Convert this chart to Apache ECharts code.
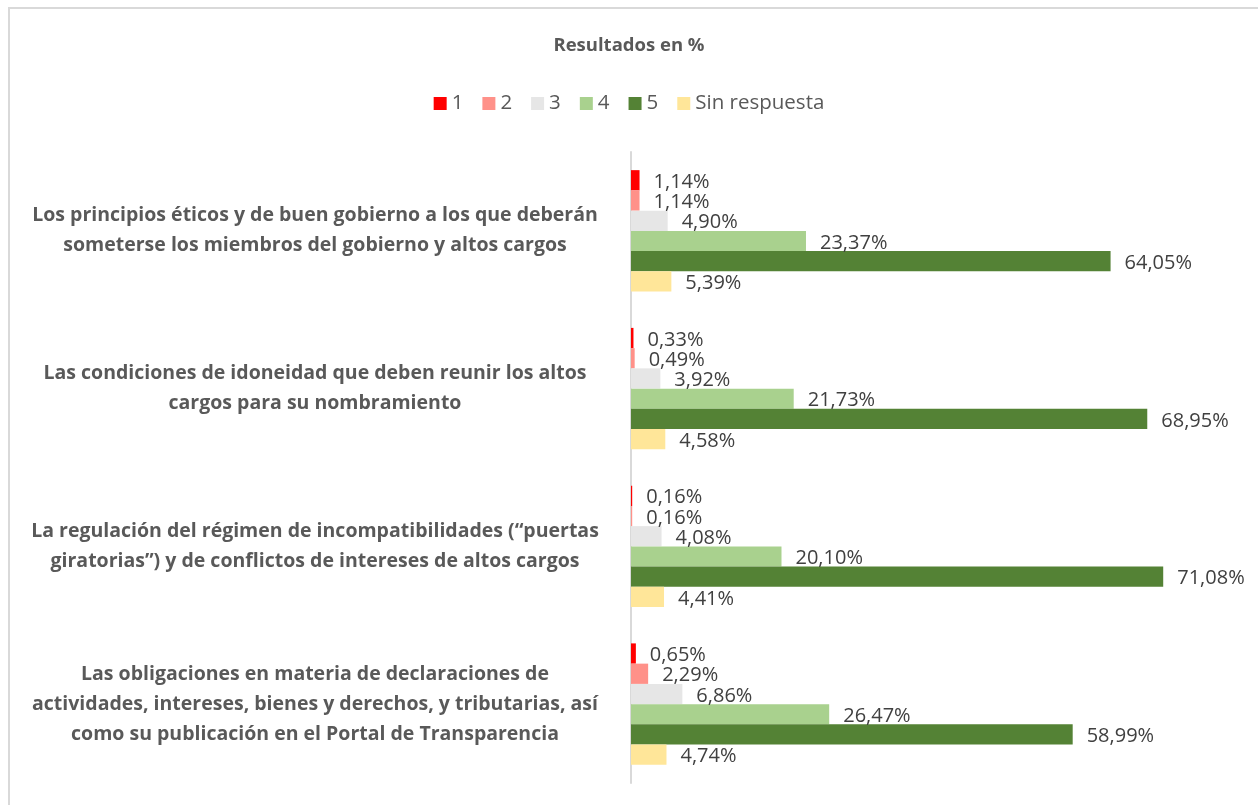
<!DOCTYPE html>
<html>
<head>
<meta charset="utf-8">
<script src="https://cdn.jsdelivr.net/npm/echarts@6/dist/echarts.min.js"></script>
<style>
  html, body { margin: 0; padding: 0; background: #fff; }
  #chart { width: 1258px; height: 805px; }
</style>
</head>
<body>
<div id="chart"></div>
<script>
var categories = [
    'Los principios éticos y de buen gobierno a los que deberán\nsometerse los miembros del gobierno y altos cargos',
    'Las condiciones de idoneidad que deben reunir los altos\ncargos para su nombramiento',
    'La regulación del régimen de incompatibilidades (“puertas\ngiratorias”) y de conflictos de intereses de altos cargos',
    'Las obligaciones en materia de declaraciones de\nactividades, intereses, bienes y derechos, y tributarias, así\ncomo su publicación en el Portal de Transparencia'
];
var seriesNames = ['1', '2', '3', '4', '5', 'Sin respuesta'];
var seriesColors = ['#ff0000', '#ff9189', '#e6e6e6', '#a9d18e', '#548235', '#ffe699'];
var values1 = [1.14, 0.33, 0.16, 0.65];
var values2 = [1.14, 0.49, 0.16, 2.29];
var values3 = [4.90, 3.92, 4.08, 6.86];
var values4 = [23.37, 21.73, 20.10, 26.47];
var values5 = [64.05, 68.95, 71.08, 58.99];
var valuesSR = [5.39, 4.58, 4.41, 4.74];
var allValues = [values1, values2, values3, values4, values5, valuesSR];

var font = '"Open Sans", "Noto Sans", sans-serif';

var series = seriesNames.map(function (name, i) {
    return {
        name: name,
        type: 'bar',
        data: allValues[i],
        barGap: '0%',
        barCategoryGap: '23%',
        itemStyle: { color: seriesColors[i] },
        label: {
            show: true,
            position: 'right',
            distance: 14,
            offset: [0, 2],
            color: '#404040',
            fontFamily: font,
            fontSize: 20,
            formatter: function (p) {
                return p.value.toFixed(2).replace('.', ',') + '%';
            }
        }
    };
});

var option = {
    backgroundColor: '#fff',
    animation: false,
    title: {
        text: 'Resultados en %',
        left: 'center',
        top: 31,
        textStyle: {
            color: '#595959',
            fontFamily: font,
            fontSize: 18.5,
            fontWeight: 'bold'
        }
    },
    legend: {
        top: 88,
        left: 'center',
        itemWidth: 13,
        itemHeight: 13,
        itemGap: 19,
        icon: 'rect',
        textStyle: {
            color: '#595959',
            fontFamily: font,
            fontSize: 20.5
        },
        data: seriesNames
    },
    grid: {
        left: 631,
        right: 28,
        top: 152,
        bottom: 22
    },
    xAxis: {
        type: 'value',
        min: 0,
        max: 80,
        show: false
    },
    yAxis: {
        type: 'category',
        inverse: true,
        data: categories,
        axisLine: { show: true, lineStyle: { color: '#d9d9d9', width: 2 } },
        axisTick: { show: false },
        axisLabel: {
            align: 'center',
            margin: 316,
            color: '#595959',
            fontFamily: font,
            fontSize: 19.5,
            fontWeight: 'bold',
            lineHeight: 30
        }
    },
    graphic: [{
        type: 'rect',
        shape: { x: 9, y: 8, width: 1300, height: 900 },
        style: { fill: 'none', stroke: '#d9d9d9', lineWidth: 2 },
        silent: true
    }],
    series: series
};

var myChart = echarts.init(document.getElementById('chart'));
myChart.setOption(option);
</script>
</body>
</html>
